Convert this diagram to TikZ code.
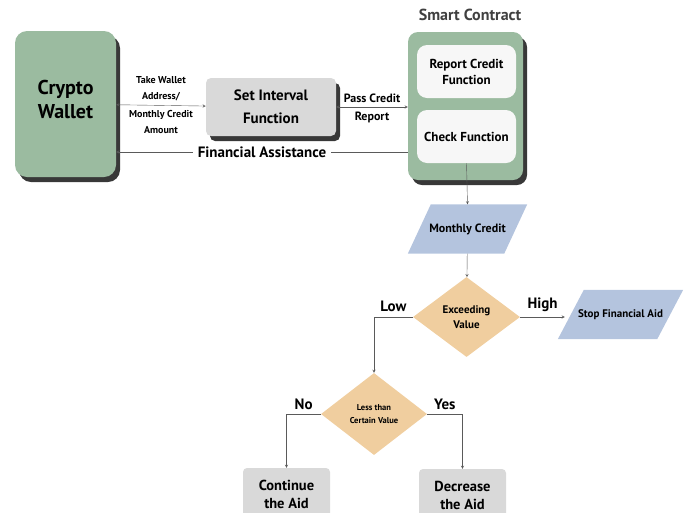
\documentclass[tikz,border=0pt]{standalone}
\usepackage{fontspec}
\setmainfont{PT Sans}
\usepackage{tikz}
\usetikzlibrary{shapes.geometric,shadows,backgrounds}

\definecolor{sagegreen}{HTML}{9BBBA0}
\definecolor{boxgray}{HTML}{D9D9D9}
\definecolor{darkshade}{HTML}{383838}
\definecolor{paleblue}{HTML}{B4C4DE}
\definecolor{sand}{HTML}{F0CE9F}
\definecolor{linegray}{HTML}{5A5A5A}

\tikzset{
  shade box/.style={rounded corners=#1, align=center, font=\bfseries,
    drop shadow={shadow xshift=4pt, shadow yshift=-5pt, fill=darkshade, opacity=1}},
  inner box/.style={fill=white!97!black, rounded corners=10pt, align=center,
    minimum width=99pt, minimum height=53pt, font=\bfseries\fontsize{13}{16}\selectfont},
  io/.style={inner sep=0pt, minimum height=49pt, font=\bfseries\fontsize{12}{14}\selectfont},
  choice/.style={diamond, fill=sand, inner sep=0pt, align=center},
  endbox/.style={fill=boxgray, rounded corners=4pt, align=center, minimum width=87pt,
    minimum height=52pt, font=\bfseries\fontsize{14.5}{18}\selectfont},
  flow/.style={draw=linegray, thin, >=stealth},
  tag/.style={font=\bfseries\fontsize{15}{17}\selectfont}
}
% parallelogram behind an io node
\newcommand{\slantfill}[2]{%
  \begin{scope}[on background layer]
    \fill[paleblue] ([xshift=-#2]#1.south west) -- ([xshift=#2]#1.north west)
      -- ([xshift=#2]#1.north east) -- ([xshift=-#2]#1.south east) -- cycle;
  \end{scope}}

\begin{document}
\begin{tikzpicture}[x=1pt,y=-1pt]
    \useasboundingbox (0,0) rectangle (692,512);
    \clip (0,0) rectangle (692,512);

    % top row
    \node[shade box=12pt, fill=sagegreen, minimum width=101pt, minimum height=146pt,
      font=\bfseries\fontsize{20}{24}\selectfont] (wallet) at (65.5,104) {Crypto\\Wallet\\[-14pt]};
    \node[shade box=5pt, fill=boxgray, minimum width=130pt, minimum height=58pt,
      font=\bfseries\fontsize{15}{23}\selectfont] (setint) at (271,107) {Set Interval\\Function};
    \node[shade box=10pt, fill=sagegreen, minimum width=115pt, minimum height=148pt] (contract) at (465.5,106) {};
    \node[font=\bfseries\fontsize{16}{18}\selectfont, text=black!75] (sctitle) at (470,15) {Smart Contract};
    \node[inner box] (report) at (466.5,71.5) {Report Credit\\Function};
    \node[inner box] (check) at (466.5,136.5) {Check Function};
    \coordinate (finy) at (0,152);

    \draw[flow,<->] (wallet) -- node[above=1pt, font=\bfseries\fontsize{10}{16}\selectfont, align=center]{Take Wallet\\Address/}
      node[below=1pt, font=\bfseries\fontsize{10}{16}\selectfont, align=center]{Monthly Credit\\Amount} (setint);
    \draw[flow,<->] (setint) -- node[above=1pt, font=\bfseries\fontsize{12}{14}\selectfont]{Pass Credit}
      node[below=1pt, font=\bfseries\fontsize{12}{14}\selectfont]{Report} (contract.west |- setint);
    \draw[flow,->] (contract.west |- finy) -- node[fill=white, inner xsep=5pt, font=\bfseries\fontsize{15}{17}\selectfont]{Financial Assistance} (wallet.east |- finy);

    % decision flow
    \node[io, minimum width=96pt] (monthly) at (467.5,229) {Monthly Credit};
    \slantfill{monthly}{11.5pt}
    \node[choice, minimum width=107pt, minimum height=80pt, font=\bfseries\fontsize{11}{15}\selectfont] (exceed) at (466.5,317) {Exceeding\\Value};
    \node[io, minimum width=99pt, font=\bfseries\fontsize{11}{13}\selectfont] (stop) at (620.5,314.5) {Stop Financial Aid};
    \slantfill{stop}{13pt}
    \node[choice, minimum width=106pt, minimum height=82pt, font=\bfseries\fontsize{8.5}{13}\selectfont] (less) at (374,414) {Less than\\Certain Value};
    \node[endbox] (cont) at (286.5,494) {Continue\\the Aid};
    \node[endbox] (decr) at (462.5,495) {Decrease\\the Aid};

    \draw[flow,->] (check.south) -- (monthly.north);
    \draw[flow,->] (monthly) -- (exceed);
    \draw[flow,->] (exceed.east) -- node[above=2pt, tag]{High} ([xshift=-6pt]exceed.east -| stop.west);
    \draw[flow,->] (exceed.west) -| node[pos=0.25, above=2pt, tag]{Low} (less.north);
    \draw[flow,->] (less.west) -| node[pos=0.25, above=1pt, tag]{No} (cont.north);
    \draw[flow,->] (less.east) -| node[pos=0.25, above=1pt, tag]{Yes} (decr.north);
\end{tikzpicture}
\end{document}
